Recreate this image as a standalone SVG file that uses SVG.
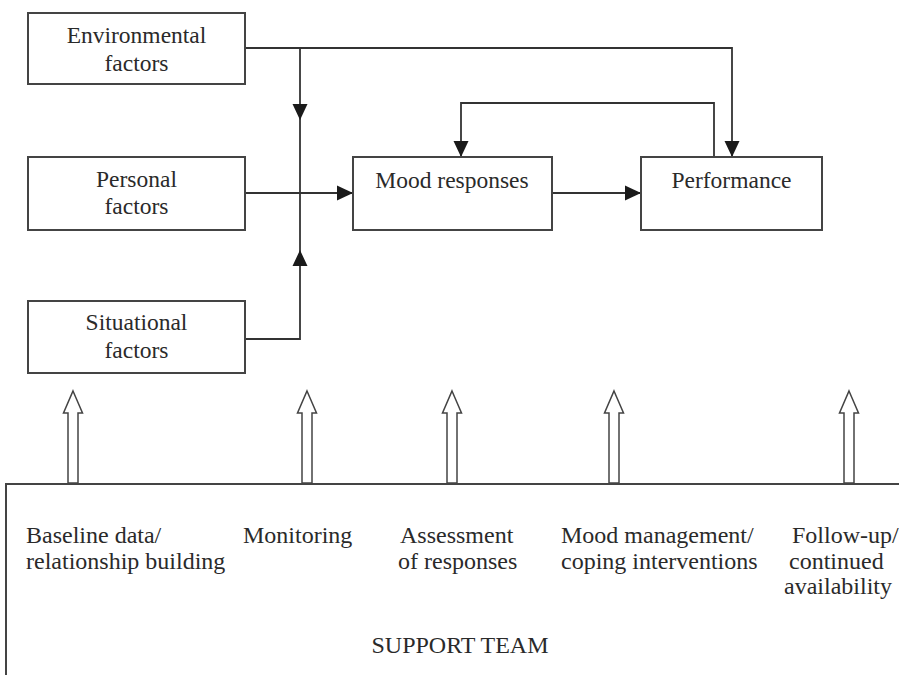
<svg xmlns="http://www.w3.org/2000/svg" width="899" height="675" viewBox="0 0 899 675">
<style>
.box{fill:#fff;stroke:#444;stroke-width:2}
.ln{fill:none;stroke:#333;stroke-width:1.8}
.t{font-family:"Liberation Serif","Times New Roman",serif;font-size:23.5px;fill:#2a2a2a}
.b{font-size:24px}
.c{text-anchor:middle}
.ha{fill:#fff;stroke:#444;stroke-width:1.5}
</style>
<defs>
<marker id="ah" markerUnits="userSpaceOnUse" markerWidth="16" markerHeight="16" viewBox="0 0 16 16" refX="16" refY="8" orient="auto">
<path d="M0,0.5 L16,8 L0,15.5 Z" fill="#1a1a1a"/>
</marker>
</defs>
<g id="connectors">
<path class="ln" d="M245,48 H732 V157" marker-end="url(#ah)"/>
<path class="ln" d="M300,48 V120" marker-end="url(#ah)"/>
<path class="ln" d="M300,120 V193"/>
<path class="ln" d="M245,339 H300 V250" marker-end="url(#ah)"/>
<path class="ln" d="M300,250 V193"/>
<path class="ln" d="M245,193 H353" marker-end="url(#ah)"/>
<path class="ln" d="M552,193 H641" marker-end="url(#ah)"/>
<path class="ln" d="M714,157 V103 H461 V157" marker-end="url(#ah)"/>
</g>
<g id="env">
<rect class="box" x="28" y="13" width="217" height="71"/>
<text class="t c" x="136.5" y="43">Environmental</text>
<text class="t c" x="136.5" y="71">factors</text>
</g>
<g id="personal">
<rect class="box" x="28" y="157" width="217" height="73"/>
<text class="t c" x="136.5" y="187">Personal</text>
<text class="t c" x="136.5" y="214">factors</text>
</g>
<g id="situational">
<rect class="box" x="28" y="301" width="217" height="72"/>
<text class="t c" x="136.5" y="330">Situational</text>
<text class="t c" x="136.5" y="358">factors</text>
</g>
<g id="mood">
<rect class="box" x="353" y="157" width="199" height="73"/>
<text class="t c" x="452" y="188">Mood responses</text>
</g>
<g id="performance">
<rect class="box" x="641" y="157" width="181" height="73"/>
<text class="t c" x="731.5" y="188">Performance</text>
</g>
<g id="support-arrows">
<polygon class="ha" points="73,391 82.5,413 78,413 78,483 68,483 68,413 63.5,413"/>
<polygon class="ha" points="307,391 316.5,413 312,413 312,483 302,483 302,413 297.5,413"/>
<polygon class="ha" points="452,391 461.5,413 457,413 457,483 447,483 447,413 442.5,413"/>
<polygon class="ha" points="614,391 623.5,413 619,413 619,483 609,483 609,413 604.5,413"/>
<polygon class="ha" points="849,391 858.5,413 854,413 854,483 844,483 844,413 839.5,413"/>
</g>
<g id="support-team">
<path class="ln" d="M6,675 V484 H899" style="stroke:#444;stroke-width:2"/>
<text class="t b" x="26" y="543">Baseline data/</text>
<text class="t b" x="26" y="569">relationship building</text>
<text class="t b" x="243" y="543">Monitoring</text>
<text class="t b" x="400" y="543">Assessment</text>
<text class="t b" x="398" y="569">of responses</text>
<text class="t b" x="561" y="543">Mood management/</text>
<text class="t b" x="561" y="569">coping interventions</text>
<text class="t b" x="792" y="543">Follow-up/</text>
<text class="t b" x="789" y="569">continued</text>
<text class="t b" x="784" y="594">availability</text>
<text class="t b c" x="460" y="653">SUPPORT TEAM</text>
</g>
</svg>
